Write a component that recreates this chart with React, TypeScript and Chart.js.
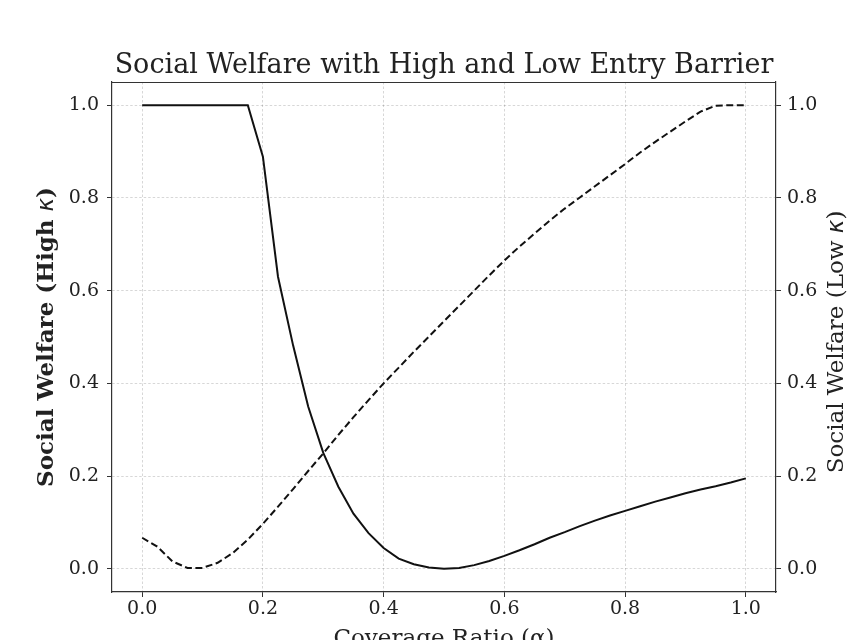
import React, { useEffect, useRef } from "react";
import { Chart, registerables } from "chart.js";

Chart.register(...registerables);

const coverage = [
  0.0, 0.025, 0.05, 0.075, 0.1, 0.125, 0.15, 0.175, 0.2, 0.225, 0.25, 0.275, 0.3, 0.325, 0.35, 0.375, 0.4,
  0.425, 0.45, 0.475, 0.5, 0.525, 0.55, 0.575, 0.6, 0.625, 0.65, 0.675, 0.7, 0.725, 0.75, 0.775, 0.8,
  0.825, 0.85, 0.875, 0.9, 0.925, 0.95, 0.975, 1.0,
];

const welfareHigh = [
  1.0, 1.0, 1.0, 1.0, 1.0, 1.0, 1.0, 1.0, 0.889, 0.63, 0.482, 0.35, 0.25, 0.177, 0.119, 0.077, 0.045,
  0.022, 0.01, 0.003, 0.0, 0.002, 0.008, 0.017, 0.028, 0.04, 0.053, 0.067, 0.079, 0.092, 0.104, 0.115, 0.125,
  0.135, 0.145, 0.154, 0.163, 0.171, 0.178, 0.186, 0.195,
];

const welfareLow = [
  0.067, 0.048, 0.016, 0.002, 0.002, 0.013, 0.034, 0.063, 0.097, 0.134, 0.172, 0.211, 0.249, 0.289, 0.327, 0.364, 0.4,
  0.434, 0.468, 0.501, 0.534, 0.567, 0.6, 0.633, 0.665, 0.695, 0.723, 0.751, 0.777, 0.801, 0.825, 0.849, 0.873,
  0.898, 0.921, 0.943, 0.965, 0.986, 0.999, 1.0, 1.0,
];

const xTicks = [0.0, 0.2, 0.4, 0.6, 0.8, 1.0];
const yTicks = [0.0, 0.2, 0.4, 0.6, 0.8, 1.0];

const titleText = "Social Welfare with High and Low Entry Barrier";
const xLabel = "Coverage Ratio (α)";
const yLeftLabel = ["Social Welfare (High ", "κ", ")"];
const yRightLabel = ["Social Welfare (Low ", "κ", ")"];

const SERIF = "'DejaVu Serif', serif";
const SANS = "'DejaVu Sans', sans-serif";
const TEXT = "#222";
const CANVAS_W = 888;
const CANVAS_H = 665;
const LABEL_SIZE = 23;

function drawMixed(
  ctx: CanvasRenderingContext2D,
  parts: string[],
  fonts: string[],
  cx: number,
  cy: number
) {
  ctx.save();
  ctx.translate(cx, cy);
  ctx.rotate(-Math.PI / 2);
  ctx.textBaseline = "middle";
  ctx.textAlign = "left";
  ctx.fillStyle = TEXT;
  const widths = parts.map((p, i) => {
    ctx.font = fonts[i];
    return ctx.measureText(p).width;
  });
  const total = widths.reduce((a, b) => a + b, 0);
  let x = -total / 2;
  parts.forEach((p, i) => {
    ctx.font = fonts[i];
    ctx.fillText(p, x, 0);
    x += widths[i];
  });
  ctx.restore();
}

const framePlugin = {
  id: "frameAndTitles",
  afterDraw(chart: any) {
    const { ctx, chartArea } = chart;
    ctx.save();
    ctx.strokeStyle = "#333";
    ctx.lineWidth = 1.2;
    ctx.beginPath();
    ctx.moveTo(chartArea.left, Math.round(chartArea.top) + 0.5);
    ctx.lineTo(chartArea.right, Math.round(chartArea.top) + 0.5);
    ctx.stroke();
    ctx.restore();
    const cy = (chartArea.top + chartArea.bottom) / 2;
    const s = LABEL_SIZE;
    drawMixed(
      ctx,
      yLeftLabel,
      [`bold ${s}px ${SERIF}`, `italic ${s}px ${SANS}`, `bold ${s}px ${SERIF}`],
      47,
      cy
    );
    drawMixed(
      ctx,
      yRightLabel,
      [`${s}px ${SERIF}`, `italic ${s}px ${SANS}`, `${s}px ${SERIF}`],
      837,
      cy + 5
    );
  },
};

export default function App() {
  const ref = useRef<HTMLCanvasElement | null>(null);

  useEffect(() => {
    if (!ref.current) return;
    const tickFont = { family: SERIF, size: 19 };
    const gridCommon = {
      color: "rgba(0,0,0,0.2)",
      lineWidth: 0.8,
      tickColor: "#333",
      tickLength: 5,
      tickWidth: 1,
    };
    const borderCommon = { color: "#333", width: 1.2, dash: [2.5, 2] };
    const setTicks = (vals: number[]) => (scale: any) => {
      scale.ticks = vals.map((v) => ({ value: v }));
    };

    const chart = new Chart(ref.current, {
      type: "line",
      data: {
        datasets: [
          {
            label: "High",
            data: coverage.map((x, i) => ({ x, y: welfareHigh[i] })),
            yAxisID: "y",
            borderColor: "#111",
            borderWidth: 2,
            pointRadius: 0,
            tension: 0,
          },
          {
            label: "Low",
            data: coverage.map((x, i) => ({ x, y: welfareLow[i] })),
            yAxisID: "y2",
            borderColor: "#111",
            borderWidth: 2,
            borderDash: [7, 3.5],
            pointRadius: 0,
            tension: 0,
          },
        ],
      },
      options: {
        animation: false,
        responsive: false,
        devicePixelRatio: 1,
        layout: { padding: 0 },
        plugins: {
          legend: { display: false },
          tooltip: { enabled: false },
          title: {
            display: true,
            text: titleText,
            color: TEXT,
            font: { family: SERIF, size: 27, weight: "normal" },
            padding: { top: 49.6, bottom: 0 },
          },
        },
        scales: {
          x: {
            type: "linear",
            position: "bottom",
            min: -0.05,
            max: 1.05,
            afterBuildTicks: setTicks(xTicks),
            afterFit: (s: any) => {
              s.height = CANVAS_H - 592;
            },
            ticks: {
              font: tickFont,
              color: TEXT,
              padding: 1,
              maxRotation: 0,
              autoSkip: false,
              callback: (v: any) => Number(v).toFixed(1),
            },
            grid: { ...gridCommon },
            border: { ...borderCommon },
            title: {
              display: true,
              text: xLabel,
              color: TEXT,
              font: { family: SERIF, size: LABEL_SIZE },
              padding: { top: 0, bottom: 12.4 },
            },
          },
          y: {
            type: "linear",
            position: "left",
            min: -0.05,
            max: 1.05,
            afterBuildTicks: setTicks(yTicks),
            afterFit: (s: any) => {
              s.width = 112;
            },
            ticks: {
              font: tickFont,
              color: TEXT,
              padding: 8,
              autoSkip: false,
              callback: (v: any) => Number(v).toFixed(1),
            },
            grid: { ...gridCommon },
            border: { ...borderCommon },
          },
          y2: {
            type: "linear",
            position: "right",
            min: -0.05,
            max: 1.05,
            afterBuildTicks: setTicks(yTicks),
            afterFit: (s: any) => {
              s.width = CANVAS_W - 776;
            },
            ticks: {
              font: tickFont,
              color: TEXT,
              padding: 6,
              autoSkip: false,
              callback: (v: any) => Number(v).toFixed(1),
            },
            grid: { ...gridCommon, drawOnChartArea: false },
            border: { ...borderCommon },
          },
        },
      } as any,
      plugins: [framePlugin],
    });
    return () => chart.destroy();
  }, []);

  return (
    <div
      style={{
        position: "fixed",
        left: 0,
        top: 0,
        width: 847,
        height: 640,
        overflow: "hidden",
        background: "#fff",
      }}
    >
      <canvas ref={ref} width={CANVAS_W} height={CANVAS_H} style={{ display: "block" }} />
    </div>
  );
}
